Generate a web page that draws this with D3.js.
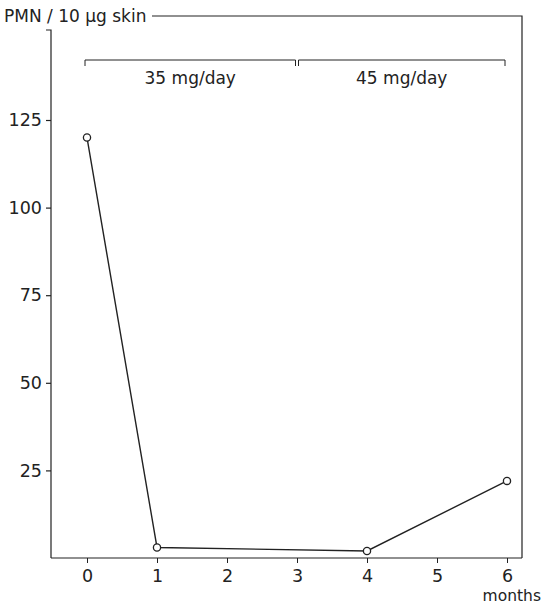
<!DOCTYPE html>
<html>
<head>
<meta charset="utf-8">
<script src="https://cdn.jsdelivr.net/npm/d3@7"></script>
<style>
  body { margin: 0; background: #fff; }
  svg text { font-family: "DejaVu Sans", "Liberation Sans", sans-serif; fill: #222; }
</style>
</head>
<body>
<svg id="svg1" width="544" height="607"></svg>
<script>
// data
var months = [0, 1, 4, 6];
var pmn = [120, 3, 2, 22];
var xTicks = [0, 1, 2, 3, 4, 5, 6];
var yTicks = [25, 50, 75, 100, 125];
var doses = ["35 mg/day", "45 mg/day"];
var doseStart = [0, 3];
var doseEnd = [3, 6];

var svg = d3.select('#svg1');
var ink = '#222';

var plotLeft = 51, plotRight = 522, plotTop = 16, plotBottom = 558;

var x = d3.scaleLinear().domain([0, 6]).range([87, 507]);
var y = d3.scaleLinear().domain([0, 125]).range([plotBottom, 120]);

// frame: top line after the title, right side
svg.append('path')
    .attr('d', 'M152,' + plotTop + 'H' + plotRight + 'V' + plotBottom)
    .attr('fill', 'none').attr('stroke', ink).attr('stroke-width', 1.2);

// left axis with hook at top
svg.append('path')
    .attr('d', 'M46,30H' + plotLeft + 'V' + plotBottom)
    .attr('fill', 'none').attr('stroke', ink).attr('stroke-width', 1.2);

var yAxis = svg.append('g')
    .attr('transform', 'translate(' + plotLeft + ',0)')
    .call(d3.axisLeft(y).tickValues(yTicks).tickSize(5).tickPadding(4));
yAxis.select('.domain').remove();
yAxis.selectAll('line').attr('stroke', ink).attr('stroke-width', 1.2);
yAxis.selectAll('text').attr('font-size', 17.5).attr('fill', ink);

// bottom axis
svg.append('line')
    .attr('x1', plotLeft).attr('x2', plotRight).attr('y1', plotBottom).attr('y2', plotBottom)
    .attr('stroke', ink).attr('stroke-width', 1.2);

var xAxis = svg.append('g')
    .attr('transform', 'translate(0,' + plotBottom + ')')
    .call(d3.axisBottom(x).tickValues(xTicks).tickFormat(d3.format('d')).tickSize(5).tickPadding(7));
xAxis.select('.domain').remove();
xAxis.selectAll('line').attr('stroke', ink).attr('stroke-width', 1);
xAxis.selectAll('text').attr('font-size', 17.5).attr('fill', ink);

svg.append('text')
    .attr('x', 541).attr('y', 601)
    .attr('text-anchor', 'end')
    .attr('font-size', 15.5)
    .text('months');

// y title
svg.append('text')
    .attr('x', 4).attr('y', 22)
    .attr('font-size', 17)
    .text('PMN / 10 \u00b5g skin');

// dose brackets
doses.forEach(function(d, i) {
    var x0 = x(doseStart[i]) + (i === 0 ? -2 : 1.5);
    var x1 = x(doseEnd[i]) + (i === 0 ? -1.5 : -2);
    svg.append('path')
        .attr('d', 'M' + x0 + ',66V60H' + x1 + 'V66')
        .attr('fill', 'none').attr('stroke', ink).attr('stroke-width', 1);
    svg.append('text')
        .attr('x', (x0 + x1) / 2).attr('y', 84)
        .attr('text-anchor', 'middle')
        .attr('font-size', 17)
        .text(d);
});

// data line + markers
var pts = months.map(function(m, i) { return [m, pmn[i]]; });

svg.append('path')
    .datum(pts)
    .attr('d', d3.line().x(function(d) { return x(d[0]); }).y(function(d) { return y(d[1]); }))
    .attr('fill', 'none').attr('stroke', ink).attr('stroke-width', 1.4);

svg.selectAll('circle')
    .data(pts)
    .enter()
    .append('circle')
    .attr('cx', function(d) { return x(d[0]); })
    .attr('cy', function(d) { return y(d[1]); })
    .attr('r', 3.6)
    .attr('fill', '#fff')
    .attr('stroke', ink).attr('stroke-width', 1.3);
</script>
</body>
</html>
